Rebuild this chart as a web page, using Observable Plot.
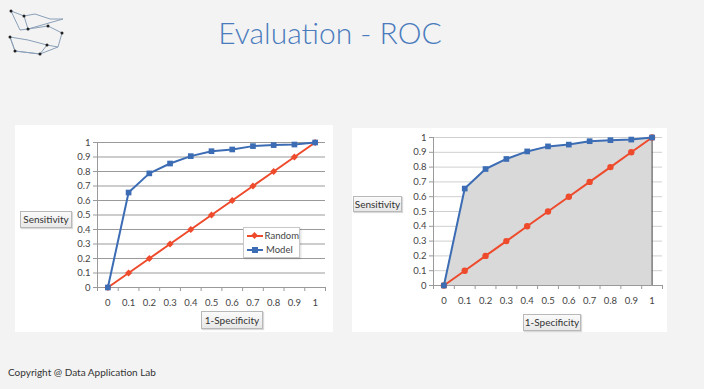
<!DOCTYPE html>
<html><head><meta charset="utf-8">
<script src="https://cdn.jsdelivr.net/npm/d3@7"></script>
<script src="https://cdn.jsdelivr.net/npm/@observablehq/plot@0.6"></script>
<style>
html,body{margin:0;padding:0;}
body{width:704px;height:389px;background:#f3f3f3;position:relative;overflow:hidden;font-family:Lato,"Open Sans",sans-serif;}
#title{position:absolute;left:0;width:660px;top:14px;text-align:center;font-size:30px;font-weight:300;color:#4a7bbd;}
.panel{position:absolute;background:#fff;}
.panel svg{display:block;}
.box{position:absolute;font-size:10px;color:#333;background:linear-gradient(#fafafa,#e8e8e8);border:1px solid #b8b8b8;box-shadow:1px 1px 1px rgba(0,0,0,0.15);text-align:center;line-height:14px;}
#legend{position:absolute;background:#fff;border:1px solid #c8c8c8;box-shadow:1px 1px 2px rgba(0,0,0,0.15);font-size:9.5px;color:#444;}
#legend div{height:14px;line-height:14px;display:flex;align-items:center;}
#copy{position:absolute;left:8px;top:366px;font-size:10px;color:#333;}
#logo{position:absolute;left:0;top:0;}
</style></head>
<body>
<svg id="logo" width="70" height="62">
  <g stroke="#8aa0b8" stroke-width="1" fill="none">
    <polyline points="11,11 24,16 28,29 48,26 62,33 58,47 47,45 40,54 15,51 10,37 28,40 47,45"/>
    <polyline points="11,11 20,30 28,29"/>
    <polyline points="24,16 35,14 50,19 63,19 28,29"/>
    <polyline points="10,37 15,51 40,54 58,47"/>
  </g>
  <g fill="#222">
    <circle cx="11" cy="11" r="1.5"/><circle cx="24" cy="16" r="1.5"/><circle cx="28" cy="29" r="1.5"/>
    <circle cx="48" cy="26" r="1.5"/><circle cx="62" cy="33" r="1.5"/><circle cx="47" cy="45" r="1.5"/>
    <circle cx="40" cy="54" r="1.5"/><circle cx="15" cy="51" r="1.5"/><circle cx="10" cy="37" r="1.5"/>
  </g>
</svg>
<div id="title">Evaluation - ROC</div>
<div class="panel" id="p1" style="left:15px;top:125px;width:318px;height:207px;"></div>
<div class="panel" id="p2" style="left:352px;top:128px;width:315px;height:204px;"></div>
<div class="box" style="left:20px;top:211px;width:50px;height:15px;">Sensitivity</div>
<div class="box" style="left:201px;top:311px;width:60px;height:16px;line-height:16px;">1-Specificity</div>
<div class="box" style="left:353px;top:196px;width:47px;height:14px;">Sensitivity</div>
<div class="box" style="left:523px;top:314px;width:56px;height:15px;line-height:15px;">1-Specificity</div>
<div id="legend" style="left:243px;top:227px;width:55px;height:28px;padding-top:1px;">
  <div><svg width="22" height="10"><line x1="3" y1="5" x2="19" y2="5" stroke="#ee4a2c" stroke-width="2"/><rect x="8" y="2" width="5" height="5" fill="#ee4a2c" transform="rotate(45 10.5 4.5)"/></svg>Random</div>
  <div><svg width="22" height="10"><line x1="3" y1="5" x2="19" y2="5" stroke="#3c6db4" stroke-width="2"/><rect x="8" y="2" width="6" height="6" fill="#3c6db4"/></svg>Model</div>
</div>
<div id="copy">Copyright @ Data Application Lab</div>
<script>
const fpr = [0, 0.1, 0.2, 0.3, 0.4, 0.5, 0.6, 0.7, 0.8, 0.9, 1];
const randomTpr = [0, 0.1, 0.2, 0.3, 0.4, 0.5, 0.6, 0.7, 0.8, 0.9, 1];
const modelTpr = [0, 0.655, 0.787, 0.855, 0.906, 0.94, 0.952, 0.975, 0.982, 0.986, 1];
const yTicks = [0, 0.1, 0.2, 0.3, 0.4, 0.5, 0.6, 0.7, 0.8, 0.9, 1];
const xTickLabels = ["0", "0.1", "0.2", "0.3", "0.4", "0.5", "0.6", "0.7", "0.8", "0.9", "1"];

const RED = "#ee4a2c", BLUE = "#3c6db4";
const randomData = fpr.map((x, i) => ({x, y: randomTpr[i]}));
const modelData = fpr.map((x, i) => ({x, y: modelTpr[i]}));
const half = 0.05;
const boundaries = fpr.map(x => x - half).concat([fpr[fpr.length - 1] + half]);

function chart({width, height, mt, mb, ml, mr, filled, gridColor, randomSymbol}) {
  const marks = [
    Plot.gridY(yTicks, {stroke: gridColor, strokeOpacity: 1})
  ];
  if (filled) {
    marks.push(Plot.areaY(modelData, {x: "x", y: "y", fill: "#d9d9d9"}));
    marks.push(Plot.ruleX([fpr[fpr.length - 1]], {y1: 0, y2: 1, stroke: "#5a5a5a", strokeWidth: 1.2}));
  }
  marks.push(
    Plot.ruleX([boundaries[0]], {y1: 0, y2: 1, stroke: "#9a9a9a"}),
    Plot.ruleY([0], {stroke: "#9a9a9a"}),
    Plot.axisY({ticks: yTicks, tickSize: 4, tickPadding: 3, tickFormat: d3.format(""), stroke: "#9a9a9a", fill: "#444", fontSize: 9.5, label: null}),
    Plot.axisX({ticks: boundaries, tickSize: 4, tickFormat: () => "", stroke: "#9a9a9a", label: null}),
    Plot.axisX({ticks: fpr, tickSize: 0, tickPadding: 12, tickFormat: (d, i) => xTickLabels[i], fill: "#444", fontSize: 9.5, label: null}),
    Plot.line(randomData, {x: "x", y: "y", stroke: RED, strokeWidth: 2}),
    Plot.dot(randomData, {x: "x", y: "y", fill: RED, symbol: randomSymbol, r: 3.2}),
    Plot.line(modelData, {x: "x", y: "y", stroke: BLUE, strokeWidth: 2}),
    Plot.dot(modelData, {x: "x", y: "y", fill: BLUE, symbol: "square", r: 3.2})
  );
  return Plot.plot({
    width, height,
    marginTop: mt, marginBottom: mb, marginLeft: ml, marginRight: mr,
    style: {fontFamily: "Lato, 'Open Sans', sans-serif", background: "transparent", overflow: "visible"},
    x: {type: "linear", domain: [boundaries[0], boundaries[boundaries.length - 1]]},
    y: {domain: [0, 1]},
    marks
  });
}

document.getElementById("p1").appendChild(chart({width: 318, height: 207, mt: 17, mb: 45, ml: 82, mr: 8, filled: false, gridColor: "#9a9a9a", randomSymbol: "diamond2"}));
document.getElementById("p2").appendChild(chart({width: 315, height: 204, mt: 9, mb: 47, ml: 81, mr: 5, filled: true, gridColor: "#cfcfcf", randomSymbol: "circle"}));
</script>
</body></html>
